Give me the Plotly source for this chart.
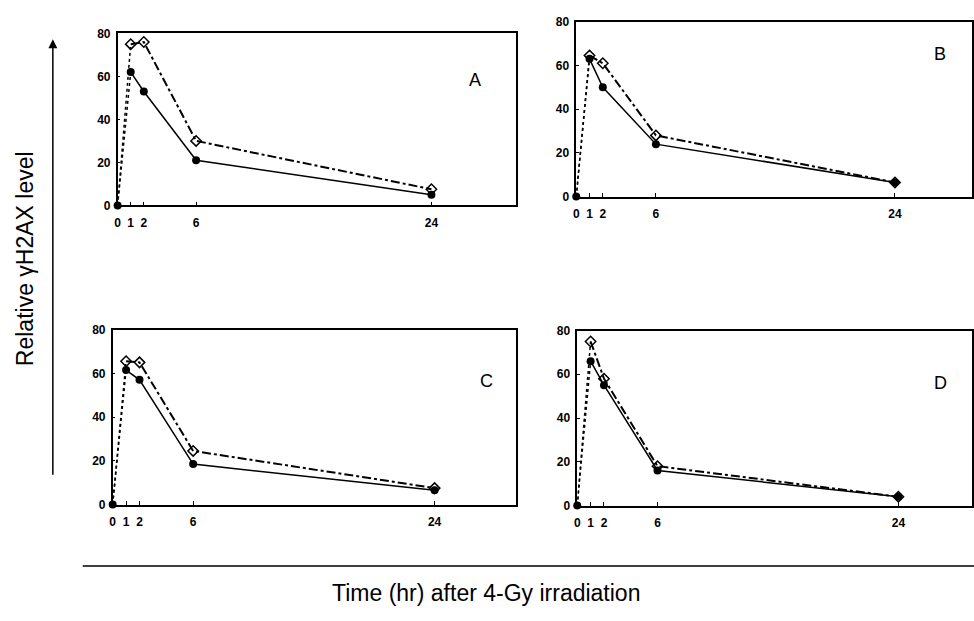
import plotly.graph_objects as go

hours = [0, 1, 2, 6, 24]
y_ticks = [0, 20, 40, 60, 80]
x_ticks = [0, 1, 2, 6, 24]
x_tick_labels = ["0", "1", "2", "6", "24"]

A_closed = [0, 62, 53, 21, 5]
A_open = [0, 75, 76, 30, 7.5]
B_closed = [0, 63, 50, 24, 6.5]
B_open = [0, 64.5, 61, 28, 6.5]
C_closed = [0, 61.5, 57, 18.5, 6.5]
C_open = [0, 65.5, 65, 24.5, 7.5]
D_closed = [0, 66, 55, 16, 4]
D_open = [0, 75, 58, 18, 4]

panel_letters = ["A", "B", "C", "D"]
panel_data = [(A_closed, A_open), (B_closed, B_open), (C_closed, C_open), (D_closed, D_open)]

W, H = 974, 621
# pixel boxes: left, right, top, bottom
boxes = [(115, 515, 27, 203), (575, 972, 15, 194), (110, 515, 330, 509), (576, 972, 331, 510)]
xmax = [30.5, 29.8, 30.1, 29.5]
letter_pos = [(473, 75), (940, 48), (485, 383), (940, 385)]

fig = go.Figure()
layout = dict(width=W, height=H, margin=dict(l=0, r=0, t=0, b=0),
              paper_bgcolor="white", plot_bgcolor="white", showlegend=False,
              font=dict(family="Liberation Sans, Arial, sans-serif", color="black"))

tick_font = dict(size=12, color="black", weight="bold")

annotations = []
for i, (closed, opn) in enumerate(panel_data):
    n = "" if i == 0 else str(i + 1)
    xa, ya = "x" + n, "y" + n
    l, r, t, b = boxes[i]
    layout["xaxis" + n] = dict(domain=[l / W, r / W], range=[0, xmax[i]], anchor=ya,
                               showline=True, mirror=True, linecolor="black", linewidth=1.5,
                               showgrid=False, zeroline=False, ticks="inside", ticklen=4,
                               tickwidth=1, tickcolor="black", tickvals=x_ticks,
                               ticktext=x_tick_labels, ticklabelstandoff=5,
                               tickfont=tick_font)
    layout["yaxis" + n] = dict(domain=[1 - b / H, 1 - t / H], range=[0, 80], anchor=xa,
                               showline=True, mirror=True, linecolor="black", linewidth=1.5,
                               showgrid=False, zeroline=False, ticks="inside", ticklen=3,
                               tickwidth=1, tickcolor="black", tickvals=y_ticks,
                               ticklabelstandoff=3, tickfont=tick_font)
    # dotted first segments
    for series in (opn, closed):
        fig.add_trace(go.Scatter(x=hours[:2], y=series[:2], mode="lines", xaxis=xa, yaxis=ya,
                                 line=dict(color="black", width=1.5, dash="dot"),
                                 cliponaxis=False, hoverinfo="skip"))
    # open series, dash-dot
    fig.add_trace(go.Scatter(x=hours[1:], y=opn[1:], mode="lines+markers", xaxis=xa, yaxis=ya,
                             line=dict(color="black", width=2, dash="dashdot"),
                             marker=dict(symbol="diamond-open", size=8, color="black",
                                         line=dict(width=1.5, color="black")),
                             cliponaxis=False))
    # closed series, solid
    fig.add_trace(go.Scatter(x=hours[1:], y=closed[1:], mode="lines+markers", xaxis=xa, yaxis=ya,
                             line=dict(color="black", width=1.5),
                             marker=dict(symbol="circle", size=8, color="black"),
                             cliponaxis=False))
    # start point at 0
    fig.add_trace(go.Scatter(x=hours[:1], y=closed[:1], mode="markers", xaxis=xa, yaxis=ya,
                             marker=dict(symbol="circle", size=8, color="black"),
                             cliponaxis=False))
    lx, ly = letter_pos[i]
    annotations.append(dict(text=panel_letters[i], x=lx / W, y=1 - ly / H, xref="paper",
                            yref="paper", xanchor="center", yanchor="middle",
                            showarrow=False, font=dict(size=18, color="black")))

# vertical arrow at left
annotations.append(dict(text="", x=50 / W, y=1 - 33 / H, xref="paper", yref="paper",
                        ax=0, ay=437, showarrow=True, arrowhead=2, arrowsize=1.2,
                        arrowwidth=1.5, arrowcolor="black"))
annotations.append(dict(text="Relative γH2AX level", x=22 / W, y=1 - 257 / H, xref="paper",
                        yref="paper", xanchor="center", yanchor="middle",
                        showarrow=False, textangle=-90,
                        font=dict(size=23, color="black")))
annotations.append(dict(text="Time (hr) after 4-Gy irradiation", x=484 / W, y=1 - 600 / H,
                        xref="paper", yref="paper", xanchor="center", yanchor="middle",
                        showarrow=False, font=dict(size=23, color="black")))
layout["annotations"] = annotations
layout["shapes"] = [dict(type="line", xref="paper", yref="paper", x0=80 / W, x1=1,
                         y0=1 - 572 / H, y1=1 - 572 / H, line=dict(color="black", width=1.5))]

fig.update_layout(**layout)
fig.write_html("out.html")
